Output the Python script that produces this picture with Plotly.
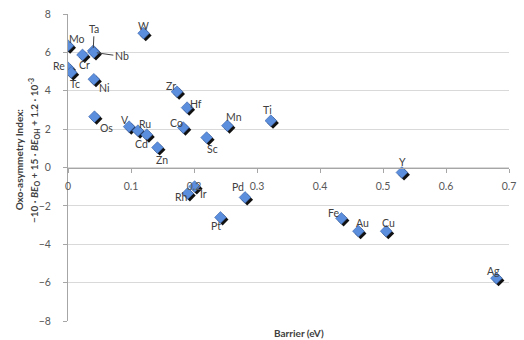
import plotly.graph_objects as go

# ---- data ----
elements = ["Mo", "Cr", "Ta", "Nb", "W", "Re", "Tc", "Ni", "Zr", "Hf", "Co", "Os",
            "V", "Ru", "Cd", "Zn", "Sc", "Mn", "Ti", "Rh", "Ir", "Pd", "Pt", "Fe",
            "Au", "Cu", "Y", "Ag"]
barrier = [0.000, 0.023, 0.040, 0.041, 0.120, 0.000, 0.005, 0.041, 0.173, 0.189, 0.183, 0.042,
           0.097, 0.111, 0.125, 0.142, 0.220, 0.253, 0.322, 0.190, 0.201, 0.281, 0.242, 0.434,
           0.461, 0.505, 0.530, 0.680]
oxo_index = [6.35, 5.87, 6.08, 6.00, 7.00, 5.20, 4.95, 4.60, 3.95, 3.12, 2.08, 2.65,
             2.13, 1.92, 1.71, 1.04, 1.56, 2.18, 2.44, -1.35, -0.99, -1.56, -2.60, -2.65,
             -3.32, -3.32, -0.26, -5.77]
x_ticks = [0, 0.1, 0.2, 0.3, 0.4, 0.5, 0.6, 0.7]
x_tick_labels = ["0", "0.1", "0.2", "0.3", "0.4", "0.5", "0.6", "0.7"]
y_ticks = [-8, -6, -4, -2, 0, 2, 4, 6, 8]

# ---- label placement (pixel offsets: dx right, dy down) ----
label_offsets = {
    "Mo": (9, -7), "Cr": (2, 10), "W": (0, -7), "Re": (-9, -2), "Tc": (4, 11),
    "Ni": (10, 9), "Zr": (-6, -6), "Hf": (9, -4), "Co": (-7, -5), "Os": (12, 11),
    "V": (-4, -7), "Ru": (7, -7), "Cd": (-5, 9), "Zn": (5, 12), "Sc": (6, 11),
    "Mn": (7, -9), "Ti": (-3, -11), "Rh": (-6, 4), "Ir": (9, 7), "Pd": (-7, -10),
    "Pt": (-4, 9), "Fe": (-8, -5), "Au": (4, -8), "Cu": (2, -8), "Y": (1, -10),
    "Ag": (-3, -7),
}
leader_labels = {"Ta": (1, -22), "Nb": (28, 4)}

FONT = "Lato, 'Liberation Sans', sans-serif"
L, R, T, B = 68, 8, 13, 19
W, H = 524, 340
x_range = [0, 0.7]
y_range = [-8, 8]
px_per_x = (W - L - R) / (x_range[1] - x_range[0])
px_per_y = (H - T - B) / (y_range[1] - y_range[0])

# shadow offset (pixels -> data units)
sdx = 2.2 / px_per_x
sdy = -2.2 / px_per_y

fig = go.Figure()
fig.add_trace(go.Scatter(
    x=[v + sdx for v in barrier], y=[v + sdy for v in oxo_index], mode="markers",
    marker=dict(symbol="diamond", size=9, color="#111111", line=dict(width=0)),
    hoverinfo="skip", showlegend=False))
fig.add_trace(go.Scatter(
    x=barrier, y=oxo_index, mode="markers", text=elements,
    marker=dict(symbol="diamond", size=9, color="#5B8EDC",
                line=dict(width=0.6, color="#3B63A8")),
    showlegend=False))

annotations = []
for el, xv, yv in zip(elements, barrier, oxo_index):
    if el in label_offsets:
        dx, dy = label_offsets[el]
        annotations.append(dict(x=xv, y=yv, xref="x", yref="y", text=el, showarrow=False,
                                xanchor="center", yanchor="middle",
                                xshift=dx, yshift=-dy,
                                font=dict(family=FONT, size=10.5, color="#404040")))
    elif el in leader_labels:
        dx, dy = leader_labels[el]
        annotations.append(dict(x=xv, y=yv, xref="x", yref="y", text=el, showarrow=True,
                                arrowhead=0, arrowwidth=1, arrowcolor="#404040",
                                ax=dx, ay=dy, standoff=3,
                                font=dict(family=FONT, size=10.5, color="#404040")))

plot_w = W - L - R
plot_h = H - T - B
def pxx(px):
    return (px - L) / plot_w
def pyy(py):
    return (H - B - py) / plot_h

annotations.append(dict(x=pxx(18), y=pyy(159), xref="paper", yref="paper",
                        xanchor="center", yanchor="middle",
                        text="<b>Oxo-asymmetry Index:</b>", textangle=-90, showarrow=False,
                        font=dict(family=FONT, size=10, color="#404040")))
annotations.append(dict(x=pxx(33), y=pyy(150), xref="paper", yref="paper",
                        xanchor="center", yanchor="middle",
                        text="<b>−10 · <i>BE</i><sub>O</sub> + 15 · <i>BE</i><sub>OH</sub> + 1.2 · 10<sup>-3</sup></b>",
                        textangle=-90, showarrow=False,
                        font=dict(family=FONT, size=10, color="#404040")))
annotations.append(dict(x=pxx(303), y=pyy(333), xref="paper", yref="paper",
                        xanchor="center", yanchor="middle",
                        text="<b>Barrier (eV)</b>", showarrow=False,
                        font=dict(family=FONT, size=10, color="#404040")))

fig.update_layout(
    width=W, height=H,
    margin=dict(l=L, r=R, t=T, b=B, pad=0),
    plot_bgcolor="white", paper_bgcolor="white",
    font=dict(family=FONT, size=10, color="#595959"),
    xaxis=dict(range=x_range, tickvals=x_ticks, ticktext=x_tick_labels,
               showgrid=False, zeroline=False,
               anchor="free", position=(0 - y_range[0]) / (y_range[1] - y_range[0]),
               showline=True, linecolor="#A6A6A6", linewidth=1,
               ticks="outside", ticklen=4, tickcolor="#A6A6A6",
               ticklabelstandoff=5,
               tickfont=dict(family=FONT, size=10.5, color="#595959")),
    yaxis=dict(range=y_range, tickvals=y_ticks, showgrid=True, gridcolor="#D9D9D9",
               gridwidth=1, zeroline=False, showline=True, linecolor="#A6A6A6",
               linewidth=1, ticks="outside", ticklen=4, tickcolor="#A6A6A6",
               ticklabelstandoff=10,
               tickfont=dict(family=FONT, size=10.5, color="#595959")),
    annotations=annotations,
)

fig.write_html("out.html")
